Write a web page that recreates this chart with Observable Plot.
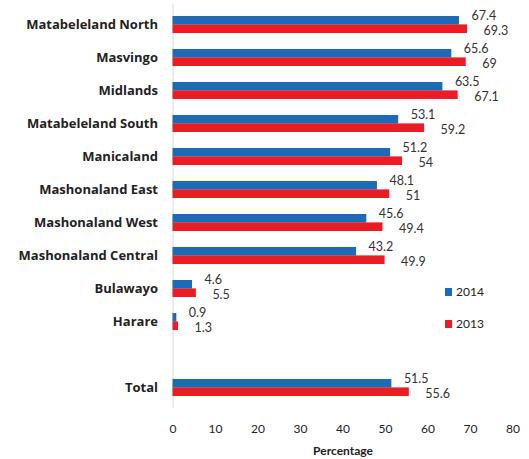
<!DOCTYPE html>
<html>
<head>
<meta charset="utf-8">
<script src="https://cdn.jsdelivr.net/npm/d3@7"></script>
<script src="https://cdn.jsdelivr.net/npm/@observablehq/plot@0.6"></script>
<style>
  html, body { margin: 0; padding: 0; background: #fff; }
  #wrap { position: relative; width: 529px; height: 459px; font-family: Lato, "Liberation Sans", sans-serif; }
  .leg { position: absolute; left: 445px; font-size: 12px; color: #222; display: flex; align-items: center; }
  .sw { width: 7px; height: 8px; margin-right: 4px; display: inline-block; }
</style>
</head>
<body>
<div id="wrap"></div>
<script>
const regions = ["Matabeleland North","Masvingo","Midlands","Matabeleland South","Manicaland","Mashonaland East","Mashonaland West","Mashonaland Central","Bulawayo","Harare","Total"];
const values2014 = [67.4, 65.6, 63.5, 53.1, 51.2, 48.1, 45.6, 43.2, 4.6, 0.9, 51.5];
const values2013 = [69.3, 69, 67.1, 59.2, 54, 51, 49.4, 49.9, 5.5, 1.3, 55.6];
const years = ["2014", "2013"];
const xTicks = [0, 10, 20, 30, 40, 50, 60, 70, 80];

const blue = "#1c6bb7";
const red = "#ec1c24";

const d14 = regions.map((r, i) => ({region: r, value: values2014[i]}));
const d13 = regions.map((r, i) => ({region: r, value: values2013[i]}));
// blank slot before "Total"
const yDomain = [...regions.slice(0, -1), " ", regions[regions.length - 1]];

const chart = Plot.plot({
  width: 529,
  height: 459,
  marginLeft: 172.5,
  marginRight: 16.5,
  marginTop: 3.5,
  marginBottom: 51.5,
  style: {fontFamily: "Lato, 'Liberation Sans', sans-serif", fontSize: "12px", color: "#222"},
  x: {domain: [0, 80]},
  y: {domain: yDomain, paddingInner: 0.5, paddingOuter: 0.25},
  marks: [
    Plot.ruleX([0], {stroke: "#d9d9d9", strokeWidth: 1}),
    Plot.barX(d14, {x: "value", y: "region", fill: blue, insetBottom: 8.4}),
    Plot.barX(d13, {x: "value", y: "region", fill: red, insetTop: 8.4}),
    Plot.text(d14, {x: "value", y: "region", text: d => String(d.value), textAnchor: "start", dx: 12, dy: -9, fill: "#333", fontSize: 12.5}),
    Plot.text(d13, {x: "value", y: "region", text: d => String(d.value), textAnchor: "start", dx: 16, dy: 6, fill: "#333", fontSize: 12.5}),
    Plot.axisY({tickSize: 0, tickPadding: 15, fontWeight: "bold", fontSize: 13, fontFamily: "'Open Sans', Lato, sans-serif", label: null}),
    Plot.axisX({ticks: xTicks, tickSize: 0, tickPadding: 16, fontSize: 12, label: null}),
    Plot.axisX({ticks: [], tickSize: 0, label: "Percentage", labelAnchor: "center", labelArrow: "none", labelOffset: 47, fontWeight: "bold", fontSize: 12})
  ]
});
const wrap = document.getElementById("wrap");
wrap.appendChild(chart);

// legend
[["2014", blue, 284], ["2013", red, 316]].forEach(([t, c, top]) => {
  const d = document.createElement("div");
  d.className = "leg";
  d.style.top = top + "px";
  d.innerHTML = `<span class="sw" style="background:${c}"></span><span>${t}</span>`;
  wrap.appendChild(d);
});
</script>
</body>
</html>
